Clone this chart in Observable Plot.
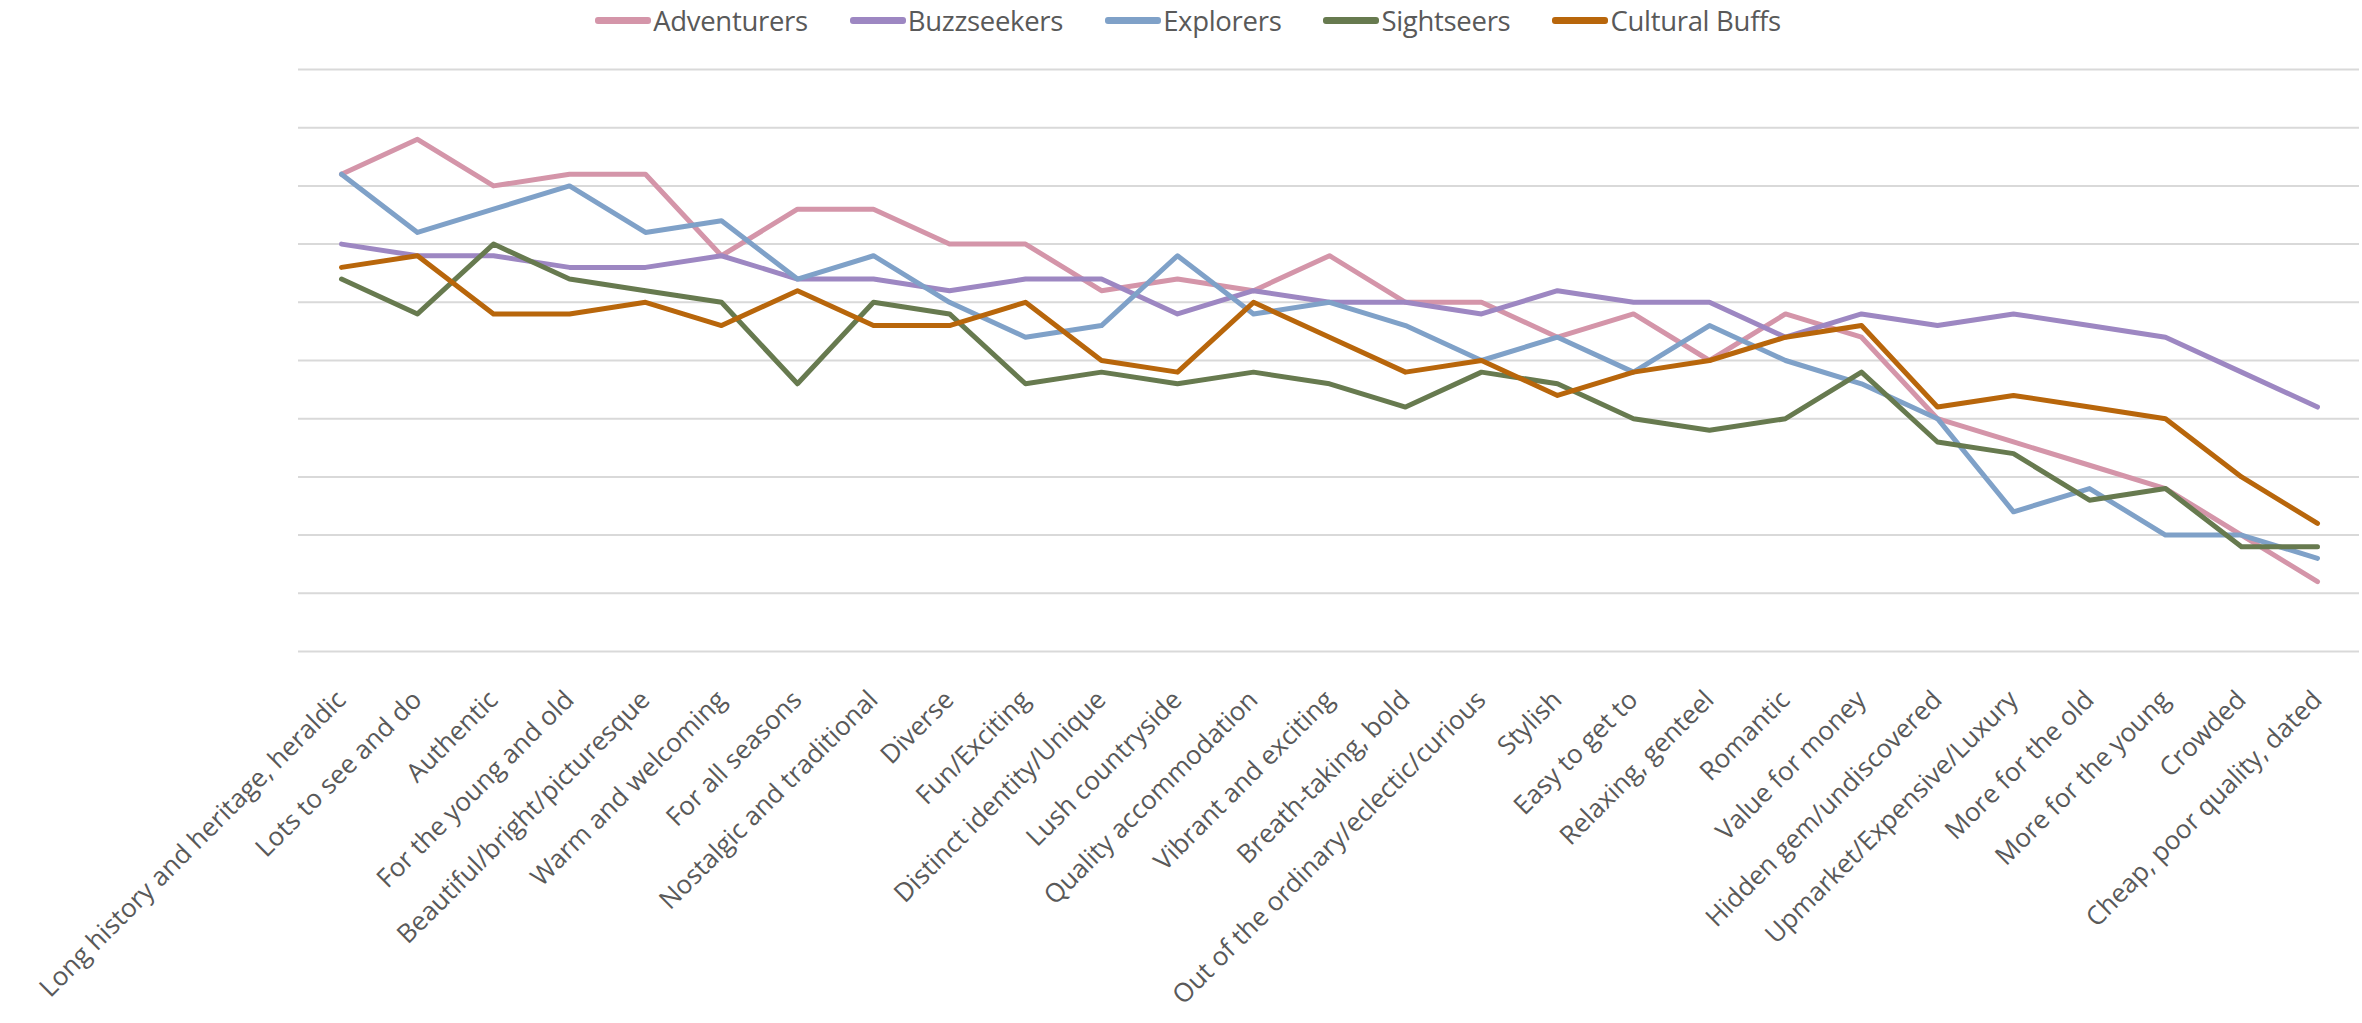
<!DOCTYPE html>
<html>
<head>
<meta charset="utf-8">
<script src="https://cdn.jsdelivr.net/npm/d3@7"></script>
<script src="https://cdn.jsdelivr.net/npm/@observablehq/plot@0.6"></script>
<style>
  body { margin: 0; background: #fff; font-family: "Open Sans", sans-serif; }
  #legend { height: 40px; display: flex; justify-content: center; align-items: center; gap: 42px; padding-left: 14px; font-size: 27.5px; color: #595959; letter-spacing: -0.3px; }
  .item { display: flex; align-items: center; }
  .sw { width: 56px; height: 7px; border-radius: 3px; margin-right: 2px; }
</style>
</head>
<body>
<div id="legend"></div>
<div id="chart"></div>
<script>
const categories = [
  "Long history and heritage, heraldic", "Lots to see and do", "Authentic", "For the young and old",
  "Beautiful/bright/picturesque", "Warm and welcoming", "For all seasons", "Nostalgic and traditional",
  "Diverse", "Fun/Exciting", "Distinct identity/Unique", "Lush countryside", "Quality accommodation",
  "Vibrant and exciting", "Breath-taking, bold", "Out of the ordinary/eclectic/curious", "Stylish",
  "Easy to get to", "Relaxing, genteel", "Romantic", "Value for money", "Hidden gem/undiscovered",
  "Upmarket/Expensive/Luxury", "More for the old", "More for the young", "Crowded", "Cheap, poor quality, dated"
];
const seriesNames = ["Adventurers", "Buzzseekers", "Explorers", "Sightseers", "Cultural Buffs"];
const seriesColors = ["#D495A9", "#9D87C2", "#7FA1C8", "#677A4F", "#B8660B"];

const adventurers = [41, 44, 40, 41, 41, 34, 38, 38, 35, 35, 31, 32, 31, 34, 30, 30, 27, 29, 25, 29, 27, 20, 18, 16, 14, 10, 6];
const buzzseekers = [35, 34, 34, 33, 33, 34, 32, 32, 31, 32, 32, 29, 31, 30, 30, 29, 31, 30, 30, 27, 29, 28, 29, 28, 27, 24, 21];
const explorers   = [41, 36, 38, 40, 36, 37, 32, 34, 30, 27, 28, 34, 29, 30, 28, 25, 27, 24, 28, 25, 23, 20, 12, 14, 10, 10, 8];
const sightseers  = [32, 29, 35, 32, 31, 30, 23, 30, 29, 23, 24, 23, 24, 23, 21, 24, 23, 20, 19, 20, 24, 18, 17, 13, 14, 9, 9];
const culturalBuffs = [33, 34, 29, 29, 30, 28, 31, 28, 28, 30, 25, 24, 30, 27, 24, 25, 22, 24, 25, 27, 28, 21, 22, 21, 20, 15, 11];
const gridValues = [0, 5, 10, 15, 20, 25, 30, 35, 40, 45, 50];

const seriesValues = [adventurers, buzzseekers, explorers, sightseers, culturalBuffs];
const rows = [];
seriesNames.forEach((s, si) => {
  categories.forEach((c, ci) => rows.push({series: s, category: c, value: seriesValues[si][ci]}));
});

const legend = document.getElementById("legend");
seriesNames.forEach((s, i) => {
  const it = document.createElement("div");
  it.className = "item";
  it.innerHTML = `<div class="sw" style="background:${seriesColors[i]}"></div><span>${s}</span>`;
  legend.appendChild(it);
});

const chart = Plot.plot({
  width: 2362,
  height: 983,
  marginTop: 29,
  marginBottom: 372,
  marginLeft: 298,
  marginRight: 3,
  style: {fontFamily: "Open Sans, sans-serif", fontSize: "26px", color: "#595959", background: "#fff"},
  x: {type: "point", domain: categories, padding: 0.5, label: null, axis: null},
  y: {domain: [0, 50], label: null, axis: null},
  color: {domain: seriesNames, range: seriesColors},
  marks: [
    Plot.ruleY(gridValues, {stroke: "#d9d9d9", strokeWidth: 2}),
    Plot.axisX({tickRotate: -45, tickSize: 0, tickPadding: 44, fontSize: 26, fill: "#595959", label: null}),
    Plot.line(rows, {x: "category", y: "value", z: "series", stroke: "series", strokeWidth: 5, strokeLinejoin: "round", strokeLinecap: "round"})
  ]
});
document.getElementById("chart").appendChild(chart);
</script>
</body>
</html>
